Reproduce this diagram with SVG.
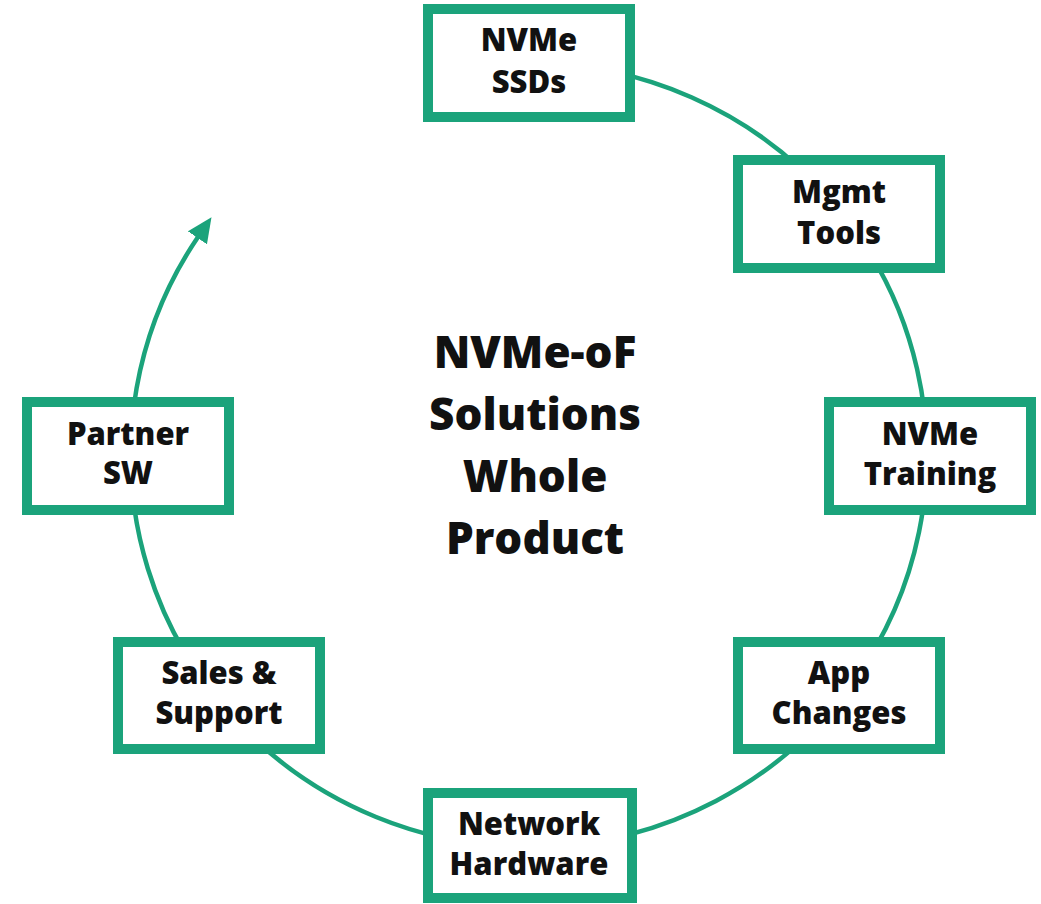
<svg xmlns="http://www.w3.org/2000/svg" width="1041" height="904" viewBox="0 0 1041 904">
  <style>
    .box { fill: #ffffff; stroke: #1ba37b; stroke-width: 10; }
    .lbl { font-family: "Open Sans", "Liberation Sans", sans-serif; font-weight: 800; font-size: 31px; fill: #111111; text-anchor: middle; }
    .title { font-family: "Open Sans", "Liberation Sans", sans-serif; font-weight: 800; font-size: 44px; fill: #111111; text-anchor: middle; }
    .ring { fill: none; stroke: #1ba37b; stroke-width: 4.5; }
  </style>
  <defs>
    <marker id="arrow" markerUnits="userSpaceOnUse" viewBox="0 -12 25 24" markerWidth="25" markerHeight="24" refX="1" refY="0" orient="auto">
      <path d="M0,-11.5 L25,0 L0,11.5 z" fill="#1ba37b"/>
    </marker>
  </defs>
  <rect width="1041" height="904" fill="#ffffff"/>
  <g id="connectors">
    <path class="ring" d="M 529.5 63 A 398 392 0 1 1 198 237" marker-end="url(#arrow)"/>
  </g>
  <g id="node-nvme-ssds">
    <rect class="box" x="428" y="9" width="202" height="108"/>
    <text class="lbl" x="529" y="51">NVMe</text>
    <text class="lbl" x="529" y="93">SSDs</text>
  </g>
  <g id="node-mgmt-tools">
    <rect class="box" x="738" y="160" width="202" height="108"/>
    <text class="lbl" x="839" y="203">Mgmt</text>
    <text class="lbl" x="839" y="244">Tools</text>
  </g>
  <g id="node-nvme-training">
    <rect class="box" x="829" y="402" width="202" height="108"/>
    <text class="lbl" x="930" y="445">NVMe</text>
    <text class="lbl" x="930" y="485">Training</text>
  </g>
  <g id="node-app-changes">
    <rect class="box" x="738" y="642" width="202" height="107"/>
    <text class="lbl" x="839" y="684">App</text>
    <text class="lbl" x="839" y="724">Changes</text>
  </g>
  <g id="node-network-hardware">
    <rect class="box" x="428" y="793" width="204" height="105"/>
    <text class="lbl" x="529" y="835">Network</text>
    <text class="lbl" x="529" y="875">Hardware</text>
  </g>
  <g id="node-sales-support">
    <rect class="box" x="118" y="642" width="202" height="107"/>
    <text class="lbl" x="219" y="684">Sales &amp;</text>
    <text class="lbl" x="219" y="724">Support</text>
  </g>
  <g id="node-partner-sw">
    <rect class="box" x="27" y="402" width="202" height="108"/>
    <text class="lbl" x="128" y="445">Partner</text>
    <text class="lbl" x="128" y="484">SW</text>
  </g>
  <g id="center-title">
    <text class="title" x="535" y="368">NVMe-oF</text>
    <text class="title" x="535" y="430">Solutions</text>
    <text class="title" x="535" y="492">Whole</text>
    <text class="title" x="535" y="554">Product</text>
  </g>
</svg>
